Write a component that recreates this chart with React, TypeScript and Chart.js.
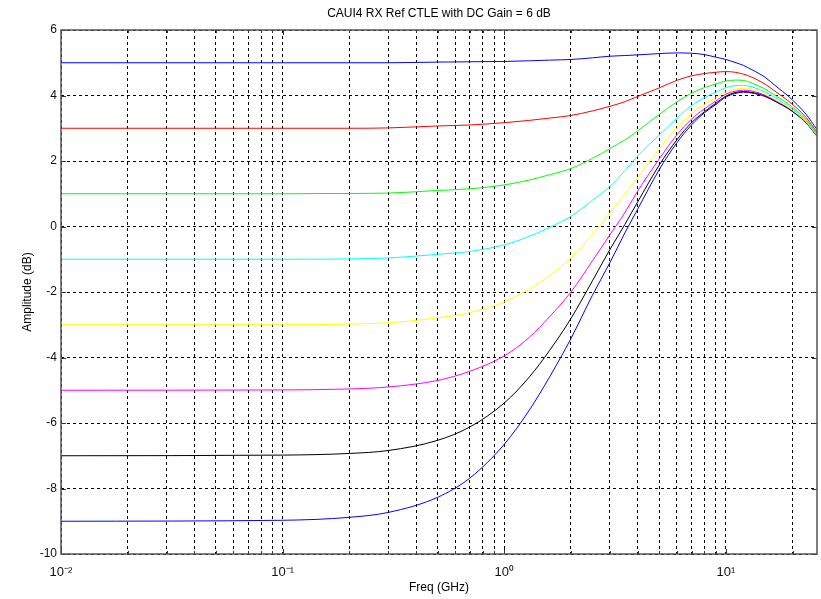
import React, { useEffect, useRef } from 'react';
import { Chart, registerables } from 'chart.js';

Chart.register(...registerables);

// ---------- data ----------
const TITLE = 'CAUI4 RX Ref CTLE with DC Gain = 6 dB';
const X_TITLE = 'Freq (GHz)';
const Y_TITLE = 'Amplitude (dB)';

const FREQ_GHZ = [0.01, 0.1, 0.2, 0.3, 0.5, 0.7, 1, 1.3, 1.6, 2, 2.5, 3, 3.5, 4, 5, 6, 7, 8, 9, 10, 11, 12, 13, 15, 17, 19, 21, 23, 25.78];

const AMP_DC_P5 = [5.0, 5.0, 5.0, 5.0, 5.02, 5.03, 5.04, 5.06, 5.08, 5.1, 5.15, 5.2, 5.22, 5.24, 5.28, 5.3, 5.29, 5.25, 5.17, 5.1, 5.01, 4.92, 4.8, 4.56, 4.26, 4.0, 3.72, 3.43, 2.96];
const AMP_DC_P3 = [3.0, 3.0, 3.0, 3.01, 3.07, 3.1, 3.17, 3.24, 3.31, 3.39, 3.53, 3.67, 3.81, 3.97, 4.23, 4.46, 4.6, 4.67, 4.71, 4.73, 4.71, 4.65, 4.57, 4.35, 4.09, 3.85, 3.6, 3.33, 2.88];
const AMP_DC_P1 = [1.0, 1.0, 1.01, 1.02, 1.1, 1.15, 1.27, 1.42, 1.58, 1.77, 2.08, 2.38, 2.64, 2.92, 3.42, 3.8, 4.07, 4.24, 4.35, 4.44, 4.47, 4.46, 4.39, 4.2, 3.97, 3.76, 3.52, 3.27, 2.83];
const AMP_DC_M1 = [-1.0, -1.0, -0.99, -0.96, -0.85, -0.76, -0.56, -0.3, -0.03, 0.31, 0.8, 1.22, 1.7, 2.15, 2.79, 3.3, 3.69, 3.93, 4.1, 4.24, 4.3, 4.31, 4.27, 4.11, 3.9, 3.7, 3.47, 3.23, 2.8];
const AMP_DC_M3 = [-3.0, -3.0, -2.98, -2.94, -2.79, -2.63, -2.3, -1.91, -1.5, -0.96, -0.25, 0.42, 0.98, 1.5, 2.36, 3.0, 3.44, 3.73, 3.93, 4.11, 4.19, 4.22, 4.19, 4.05, 3.85, 3.66, 3.44, 3.2, 2.78];
const AMP_DC_M5 = [-5.0, -4.99, -4.96, -4.9, -4.7, -4.42, -3.95, -3.38, -2.76, -2.0, -1.05, -0.25, 0.42, 1.08, 2.06, 2.79, 3.28, 3.59, 3.83, 4.04, 4.13, 4.16, 4.14, 4.01, 3.82, 3.64, 3.42, 3.19, 2.76];
const AMP_DC_M7 = [-7.0, -6.98, -6.93, -6.84, -6.53, -6.12, -5.39, -4.59, -3.79, -2.81, -1.66, -0.7, 0.06, 0.75, 1.87, 2.64, 3.17, 3.5, 3.76, 3.98, 4.09, 4.12, 4.1, 3.99, 3.8, 3.62, 3.41, 3.18, 2.76];
const AMP_DC_M9 = [-9.0, -8.97, -8.88, -8.73, -8.27, -7.68, -6.65, -5.6, -4.6, -3.42, -2.1, -1.1, -0.2, 0.53, 1.73, 2.55, 3.1, 3.47, 3.72, 3.95, 4.06, 4.1, 4.08, 3.97, 3.79, 3.61, 3.4, 3.17, 2.75];

const SERIES_LABELS = ['DC +5 dB', 'DC +3 dB', 'DC +1 dB', 'DC -1 dB', 'DC -3 dB', 'DC -5 dB', 'DC -7 dB', 'DC -9 dB'];
const SERIES_COLORS = ['#0000ff', '#ff0000', '#00ff00', '#00ffff', '#ffff00', '#ff00ff', '#000000', '#0000ff'];
const SERIES_VALUES = [AMP_DC_P5, AMP_DC_P3, AMP_DC_P1, AMP_DC_M1, AMP_DC_M3, AMP_DC_M5, AMP_DC_M7, AMP_DC_M9];

const X_MIN = 0.01;
const X_MAX = 25.78;
const X_DECADES = [0.01, 0.1, 1, 10];
const X_DECADE_LABELS = ['10⁻²', '10⁻¹', '10⁰', '10¹'];
const X_MINOR_MULTIPLES = [2, 3, 4, 5, 6, 7, 8, 9];
const Y_MIN = -10;
const Y_MAX = 6;
const Y_STEP = 2;

const FONT = "'Liberation Sans', Arial, Helvetica, sans-serif";

function buildXGrid(): number[] {
  const out: number[] = [];
  X_DECADES.forEach((d) => {
    out.push(d);
    X_MINOR_MULTIPLES.forEach((m) => {
      const v = +(d * m).toPrecision(6);
      if (v <= X_MAX) out.push(v);
    });
  });
  return out;
}
const X_GRID = buildXGrid();

function decadeLabel(v: number): string {
  const i = X_DECADES.findIndex((d) => Math.abs(d - v) / d < 1e-9);
  return i >= 0 ? X_DECADE_LABELS[i] : '';
}

const framePlugin = {
  id: 'axesFrame',
  afterDraw(chart: any) {
    const { ctx, chartArea: a, scales } = chart;
    const xs = scales.x;
    const ys = scales.y;
    ctx.save();
    ctx.strokeStyle = '#333';
    ctx.lineWidth = 1;
    const seg = (x1: number, y1: number, x2: number, y2: number) => {
      ctx.beginPath();
      ctx.moveTo(x1, y1);
      ctx.lineTo(x2, y2);
      ctx.stroke();
    };
    X_GRID.forEach((v) => {
      const px = Math.round(xs.getPixelForValue(v)) + 0.5;
      const len = decadeLabel(v) ? 5 : 3;
      seg(px, a.bottom, px, a.bottom - len);
      seg(px, a.top, px, a.top + len);
    });
    for (let v = Y_MIN; v <= Y_MAX; v += Y_STEP) {
      const py = Math.round(ys.getPixelForValue(v)) + 0.5;
      seg(a.left, py, a.left + 5, py);
      seg(a.right, py, a.right - 5, py);
    }
    ctx.strokeStyle = '#555';
    ctx.lineWidth = 1.5;
    ctx.strokeRect(a.left, a.top, a.right - a.left, a.bottom - a.top);
    ctx.restore();
  },
};

export default function App() {
  const ref = useRef<HTMLCanvasElement>(null);

  useEffect(() => {
    const canvas = ref.current;
    if (!canvas) return;
    const datasets = SERIES_VALUES.map((vals, k) => ({
      label: SERIES_LABELS[k],
      data: FREQ_GHZ.map((f, i) => ({ x: f, y: vals[i] })),
      borderColor: SERIES_COLORS[k],
      backgroundColor: SERIES_COLORS[k],
      borderWidth: 1,
      pointRadius: 0,
      pointHoverRadius: 0,
      fill: false,
      cubicInterpolationMode: 'monotone' as const,
    }));

    const chart = new Chart(canvas, {
      type: 'line',
      data: { datasets },
      plugins: [framePlugin],
      options: {
        responsive: false,
        animation: false,
        events: [],
        layout: { padding: { top: 0, right: 4, bottom: 0, left: 0 } },
        plugins: {
          legend: { display: false },
          tooltip: { enabled: false },
          title: {
            display: true,
            text: TITLE,
            fullSize: false,
            color: '#000',
            font: { family: FONT, size: 12, weight: 'normal' },
            padding: { top: 6, bottom: 9.6 },
          },
        },
        scales: {
          x: {
            type: 'logarithmic',
            min: X_MIN,
            max: X_MAX,
            afterBuildTicks: (s: any) => {
              s.ticks = X_GRID.map((v) => ({ value: v }));
            },
            afterFit: (s: any) => {
              s.height = 45;
            },
            ticks: {
              autoSkip: false,
              maxRotation: 0,
              minRotation: 0,
              padding: 11,
              color: '#111',
              font: { family: FONT, size: 13 },
              callback: (v: any) => decadeLabel(Number(v)),
            },
            grid: { color: '#000', lineWidth: 1, drawTicks: false },
            border: { display: false, dash: [3, 3] },
            title: {
              display: true,
              text: X_TITLE,
              color: '#000',
              font: { family: FONT, size: 12 },
              padding: { top: 0, bottom: 4 },
            },
          },
          y: {
            type: 'linear',
            min: Y_MIN,
            max: Y_MAX,
            afterFit: (s: any) => {
              s.width = 61;
            },
            ticks: {
              stepSize: Y_STEP,
              padding: 4,
              color: '#111',
              font: { family: FONT, size: 12 },
            },
            grid: { color: '#000', lineWidth: 1, drawTicks: false },
            border: { display: false, dash: [3, 3] },
            title: {
              display: true,
              text: Y_TITLE,
              color: '#000',
              font: { family: FONT, size: 12 },
              padding: { top: 20, bottom: 0 },
            },
          },
        },
      } as any,
    });
    return () => chart.destroy();
  }, []);

  return (
    <div style={{ position: 'fixed', left: 0, top: 0, width: 821, height: 599, background: '#fff' }}>
      <canvas ref={ref} width={821} height={599} style={{ display: 'block', width: 821, height: 599 }} />
    </div>
  );
}
